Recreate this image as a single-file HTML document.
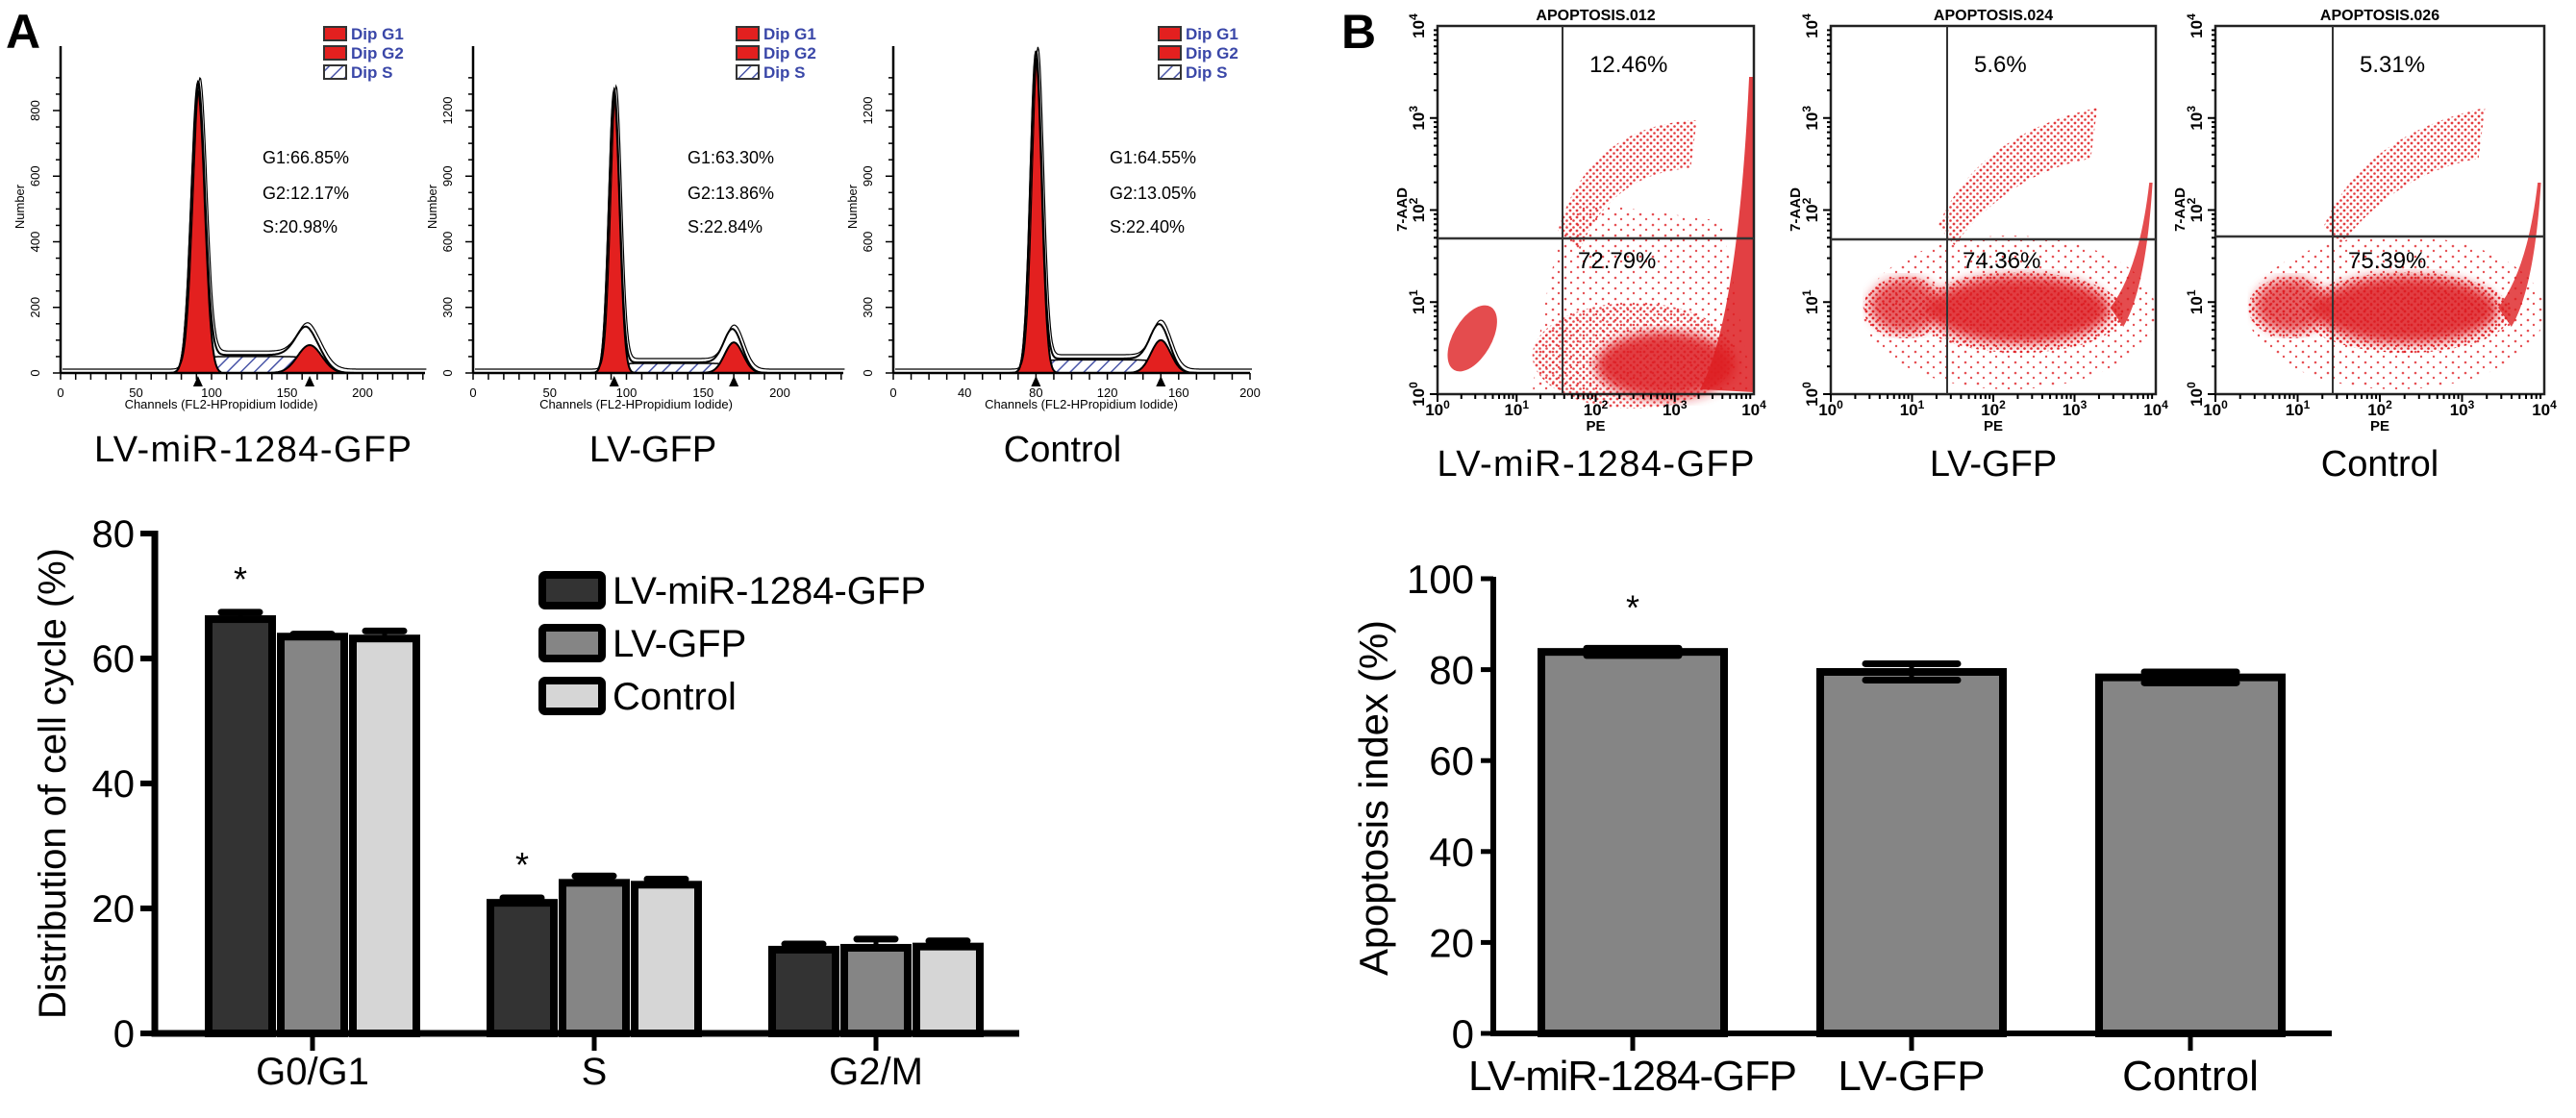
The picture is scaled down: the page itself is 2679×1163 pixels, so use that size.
<!DOCTYPE html>
<html><head><meta charset="utf-8"><style>
html,body{margin:0;padding:0;background:#fff;}
svg{display:block;font-family:"Liberation Sans",Arial,sans-serif;}
</style></head><body>
<svg id="fig" xmlns="http://www.w3.org/2000/svg" width="2679" height="1163" viewBox="0 0 2679 1163">
<defs>
<pattern id="hatch" width="10" height="10" patternUnits="userSpaceOnUse" patternTransform="rotate(45)">
<rect width="10" height="10" fill="#fff"/><line x1="0" y1="0" x2="0" y2="10" stroke="#4a56a8" stroke-width="3"/></pattern>
<pattern id="dots" width="7" height="7" patternUnits="userSpaceOnUse"><circle cx="2" cy="2" r="1.4" fill="#e0262a"/><circle cx="5.5" cy="5.5" r="1.3" fill="#e0262a"/></pattern>
<pattern id="sparse" width="13" height="11" patternUnits="userSpaceOnUse"><circle cx="3" cy="3" r="1.3" fill="#e0262a"/><circle cx="9" cy="8" r="1.2" fill="#e0262a"/></pattern>
<filter id="blur"><feGaussianBlur stdDeviation="6"/></filter>
</defs>
<text x="6" y="50" font-size="50" font-weight="bold">A</text>
<text x="1395" y="50" font-size="50" font-weight="bold">B</text>
<g id="hist"></g>
<g id="flow"></g>
<g id="barA"></g>
<g id="barB"></g>
</svg>
<script>
const NS='http://www.w3.org/2000/svg';
function mk(parent,tag,attrs,txt){const e=document.createElementNS(NS,tag);for(const k in attrs)e.setAttribute(k,attrs[k]);if(txt!==undefined)e.textContent=txt;parent.appendChild(e);return e;}

/* ---------- Histogram data ---------- */
const histNames=['LV-miR-1284-GFP','LV-GFP','Control'];
const histG1Channel=[91,92,80];
const histG1Height=[860,1270,1440];
const histG2Channel=[165,170,150];
const histG2Height=[85,140,150];
const histSHeight=[50,44,60];
const histG1Pct=['G1:66.85%','G1:63.30%','G1:64.55%'];
const histG2Pct=['G2:12.17%','G2:13.86%','G2:13.05%'];
const histSPct=['S:20.98%','S:22.84%','S:22.40%'];
const histYTicks=[[0,200,400,600,800],[0,300,600,900,1200],[0,300,600,900,1200]];
const histXTicks=[[0,50,100,150,200],[0,50,100,150,200],[0,40,80,120,160,200]];

const hg=document.getElementById('hist');
const hLayout=[{x0:63,x200:377,xend:442,ymax:800,yTop:115},{x0:492,x200:811,xend:877,ymax:1200,yTop:115},{x0:929,x200:1300,xend:1300,ymax:1200,yTop:115}];
const hSig1=[4.5,3.5,3.2],hSig2=[8,6,5.5];
for(let p=0;p<3;p++){
  const L=hLayout[p],base=388;
  const g=mk(hg,'g',{});
  
  
  const xs=c=>L.x0+c*(L.x200-L.x0)/200;
  const ys=v=>base-v*(base-L.yTop)/L.ymax;
  const g1=c=>histG1Height[p]*Math.exp(-0.5*Math.pow((c-histG1Channel[p])/hSig1[p],2));
  const g2=c=>histG2Height[p]*Math.exp(-0.5*Math.pow((c-histG2Channel[p])/hSig2[p],2));
  const a=histG1Channel[p],b=histG2Channel[p];
  const sf=c=>histSHeight[p]/((1+Math.exp(-(c-a)/2.5))*(1+Math.exp((c-b)/2.5)));
  const cEnd=(L.xend-L.x0)/(L.x200-L.x0)*200;
  function area(f,c1,c2){let d='M'+xs(c1)+','+base;for(let c=c1;c<=c2;c+=0.5)d+=' L'+xs(c).toFixed(1)+','+ys(f(c)).toFixed(1);return d+' L'+xs(c2)+','+base+'Z';}
  mk(g,'path',{d:area(sf,a-15,b+15),fill:'url(#hatch)',stroke:'#000','stroke-width':1.5});
  mk(g,'path',{d:area(g1,a-15,a+15),fill:'#e3201f',stroke:'#000','stroke-width':2});
  mk(g,'path',{d:area(g2,b-25,b+25),fill:'#e3201f',stroke:'#000','stroke-width':2});
  let d='';for(let c=0;c<=cEnd;c+=0.5){const v=g1(c)+g2(c)*1.25+sf(c)*1.1;d+=(c?' L':'M')+xs(c).toFixed(1)+','+ys(v).toFixed(1);}
  mk(g,'path',{d:d,fill:'none',stroke:'#000','stroke-width':2});
  mk(g,'path',{d:d,fill:'none',stroke:'#000','stroke-width':1.2,transform:'translate(2,-4)'});
  mk(g,'line',{x1:L.x0,y1:48,x2:L.x0,y2:base,stroke:'#000','stroke-width':2.5});
  mk(g,'line',{x1:L.x0,y1:base,x2:L.xend,y2:base,stroke:'#000','stroke-width':2.5});
  const yt=histYTicks[p],step=yt[1]-yt[0];
  for(let v=0;v<=L.ymax+step*0.6;v+=step/4){mk(g,'line',{x1:L.x0-(v%step===0?8:5),y1:ys(v),x2:L.x0,y2:ys(v),stroke:'#000','stroke-width':1.5});}
  yt.forEach(v=>{mk(g,'text',{x:L.x0-22,y:ys(v),'font-size':13,'text-anchor':'middle',transform:'rotate(-90 '+(L.x0-22)+' '+ys(v)+')'},String(v));});
  mk(g,'text',{x:L.x0-38,y:215,'font-size':13,'text-anchor':'middle',transform:'rotate(-90 '+(L.x0-38)+' 215)'},'Number');
  for(let c=0;c<=cEnd;c+=10){mk(g,'line',{x1:xs(c),y1:base,x2:xs(c),y2:base+7,stroke:'#000','stroke-width':1.5});}
  histXTicks[p].forEach(c=>{mk(g,'text',{x:xs(c),y:413,'font-size':13,'text-anchor':'middle'},String(c));});
  mk(g,'text',{x:(xs(0)+xs(200))/2+10,y:425,'font-size':13,'text-anchor':'middle'},'Channels (FL2-HPropidium Iodide)');
  [a,b].forEach(c=>mk(g,'path',{d:'M'+(xs(c)-5)+','+(base+14)+' L'+(xs(c)+5)+','+(base+14)+' L'+xs(c)+','+(base+3)+'Z',fill:'#000'}));
  const lx=[337,766,1205][p];
  ['Dip G1','Dip G2','Dip S'].forEach((t,i)=>{
    const r=mk(g,'rect',{x:lx,y:28+i*20,width:23,height:14,fill:i<2?'#e3201f':'url(#hatch)',stroke:'#333','stroke-width':2});
    
    const tt=mk(g,'text',{x:lx+28,y:41+i*20,'font-size':17,'font-weight':'bold',fill:'#3a47a8'},t);
    
  });
  const tx=[273,715,1154][p];
  mk(g,'text',{x:tx,y:170,'font-size':18},histG1Pct[p]);
  mk(g,'text',{x:tx,y:207,'font-size':18},histG2Pct[p]);
  mk(g,'text',{x:tx,y:242,'font-size':18},histSPct[p]);
  const lbl=mk(g,'text',{x:[263,679,1105][p],y:480,'font-size':38,'text-anchor':'middle'},histNames[p]);
  if(p===0)lbl.setAttribute('textLength','330');
  
}

/* ---------- Flow cytometry panels ---------- */
const flowTitles=['APOPTOSIS.012','APOPTOSIS.024','APOPTOSIS.026'];
const flowUpperPct=['12.46%','5.6%','5.31%'];
const flowLowerPct=['72.79%','74.36%','75.39%'];
const flowNames=['LV-miR-1284-GFP','LV-GFP','Control'];
const fg=document.getElementById('flow');
const fLayout=[{x0:1495,x1:1824,vx:1625,hy:248},{x0:1904,x1:2242,vx:2025,hy:249},{x0:2304,x1:2646,vx:2426,hy:246}];
const fTop=27,fBot=410;
for(let p=0;p<3;p++){
  const L=fLayout[p];
  const g=mk(fg,'g',{});
  
  
  const lx=e=>L.x0+e/4*(L.x1-L.x0), ly=e=>fBot-e/4*(fBot-fTop);
  const W=L.x1-L.x0;
  const cl=mk(g,'g',{});
  if(p===0){
    mk(cl,'path',{d:'M'+(L.x0+W*0.3)+',410 Q'+(L.x0+W*0.35)+',250 '+(L.x0+W*0.45)+',210 L'+(L.x0+W*0.9)+',230 L'+(L.x0+W)+',410Z',fill:'url(#sparse)',opacity:0.8});
    mk(cl,'ellipse',{cx:L.x0+W*0.62,cy:370,rx:W*0.32,ry:55,fill:'url(#dots)',opacity:0.85});
    mk(cl,'ellipse',{cx:L.x0+W*0.72,cy:380,rx:W*0.22,ry:35,fill:'#dd1f22',opacity:0.85,filter:'url(#blur)'});
    mk(cl,'path',{d:'M'+(L.x0+W*0.83)+',405 Q'+(L.x0+W*0.95)+',330 '+(L.x0+W*0.985)+',80 L'+(L.x0+W)+',80 L'+(L.x0+W)+',408Z',fill:'#dd1f22',opacity:0.85});
    mk(cl,'ellipse',{cx:L.x0+W*0.11,cy:352,rx:20,ry:38,fill:'#dd1f22',opacity:0.8,transform:'rotate(30 '+(L.x0+W*0.11)+' 352)'});
    mk(cl,'path',{d:'M'+(L.x0+W*0.38)+',240 Q'+(L.x0+W*0.48)+',130 '+(L.x0+W*0.82)+',125 L'+(L.x0+W*0.8)+',175 Q'+(L.x0+W*0.55)+',180 '+(L.x0+W*0.45)+',260Z',fill:'url(#dots)',opacity:0.9});
  } else {
    mk(cl,'ellipse',{cx:L.x0+W*0.55,cy:325,rx:W*0.45,ry:80,fill:'url(#sparse)',opacity:0.8});
    mk(cl,'ellipse',{cx:L.x0+W*0.58,cy:325,rx:W*0.32,ry:42,fill:'url(#dots)'});
    mk(cl,'ellipse',{cx:L.x0+W*0.58,cy:322,rx:W*0.28,ry:35,fill:'#dd1f22',opacity:0.85,filter:'url(#blur)'});
    mk(cl,'ellipse',{cx:L.x0+W*0.23,cy:320,rx:W*0.13,ry:32,fill:'url(#dots)'});
    mk(cl,'ellipse',{cx:L.x0+W*0.23,cy:318,rx:W*0.11,ry:28,fill:'#dd1f22',opacity:0.7,filter:'url(#blur)'});
    mk(cl,'path',{d:'M'+(L.x0+W*0.86)+',320 Q'+(L.x0+W*0.95)+',280 '+(L.x0+W*0.98)+',190 L'+(L.x0+W*0.99)+',190 Q'+(L.x0+W*0.97)+',300 '+(L.x0+W*0.9)+',340Z',fill:'#dd1f22',opacity:0.8});
    mk(cl,'path',{d:'M'+(L.x0+W*0.33)+',235 Q'+(L.x0+W*0.45)+',140 '+(L.x0+W*0.82)+',112 L'+(L.x0+W*0.8)+',165 Q'+(L.x0+W*0.55)+',180 '+(L.x0+W*0.38)+',255Z',fill:'url(#dots)',opacity:0.9});
  }
  mk(g,'rect',{x:L.x0,y:fTop,width:W,height:fBot-fTop,fill:'none',stroke:'#222','stroke-width':2.5});
  mk(g,'line',{x1:L.vx,y1:fTop,x2:L.vx,y2:fBot,stroke:'#333','stroke-width':2});
  mk(g,'line',{x1:L.x0,y1:L.hy,x2:L.x1,y2:L.hy,stroke:'#333','stroke-width':2.5});
  for(let e=0;e<4;e++){for(let k=1;k<10;k++){const v=e+Math.log10(k);
    mk(g,'line',{x1:L.x0-(k===1?8:4),y1:ly(v),x2:L.x0,y2:ly(v),stroke:'#000','stroke-width':2});
    mk(g,'line',{x1:lx(v),y1:fBot,x2:lx(v),y2:fBot+(k===1?8:5),stroke:'#000','stroke-width':2});}}
  for(let e=0;e<=4;e++){
    const t=mk(g,'text',{x:L.x0-14,y:ly(e),'font-size':17,'font-weight':'bold','text-anchor':'middle',transform:'rotate(-90 '+(L.x0-14)+' '+ly(e)+')'});
    mk(t,'tspan',{},'10');mk(t,'tspan',{dy:-7,'font-size':12},String(e));
    const t2=mk(g,'text',{x:lx(e),y:432,'font-size':17,'font-weight':'bold','text-anchor':'middle'});
    mk(t2,'tspan',{},'10');mk(t2,'tspan',{dy:-7,'font-size':12},String(e));
  }
  mk(g,'text',{x:L.x0-32,y:218,'font-size':15,'font-weight':'bold','text-anchor':'middle',transform:'rotate(-90 '+(L.x0-32)+' 218)'},'7-AAD');
  mk(g,'text',{x:(L.x0+L.x1)/2,y:448,'font-size':15,'font-weight':'bold','text-anchor':'middle'},'PE');
  mk(g,'text',{x:(L.x0+L.x1)/2,y:21,'font-size':16,'font-weight':'bold','text-anchor':'middle'},flowTitles[p]);
  mk(g,'text',{x:L.vx+28,y:75,'font-size':24},flowUpperPct[p]);
  mk(g,'text',{x:L.vx+16,y:279,'font-size':24},flowLowerPct[p]);
  const lbl=mk(g,'text',{x:(L.x0+L.x1)/2,y:495,'font-size':38,'text-anchor':'middle'},flowNames[p]);
  if(p===0)lbl.setAttribute('textLength','330');
  
}

/* ---------- Bar chart A data ---------- */
const cycleCategories=['G0/G1','S','G2/M'];
const seriesLabels=['LV-miR-1284-GFP','LV-GFP','Control'];
const valsMiR=[66.3,20.9,13.4];
const valsGFP=[63.5,24.1,13.7];
const valsCtrl=[63.2,23.8,13.9];
const errMiR=[1.1,0.8,0.9];
const errGFP=[0.4,1.1,1.4];
const errCtrl=[1.2,0.9,0.9];
const yTicksA=[0,20,40,60,80];
const sigA=[0,1];

const ga=document.getElementById('barA');
const yA=v=>1075-v*6.5;
const xA=i=>325+293*i;
const colorsA=['#333333','#858585','#d6d6d6'];
const seriesVals=[valsMiR,valsGFP,valsCtrl],seriesErr=[errMiR,errGFP,errCtrl];
cycleCategories.forEach((c,i)=>{
  seriesVals.forEach((vals,s)=>{
    const cx=xA(i)+(s-1)*75, top=yA(vals[i]), et=yA(vals[i]+seriesErr[s][i]);
    const eb=mk(ga,'line',{x1:cx,y1:top,x2:cx,y2:et,stroke:'#000','stroke-width':5});
    
    const cap=mk(ga,'line',{x1:cx-20,y1:et,x2:cx+20,y2:et,stroke:'#000','stroke-width':7,'stroke-linecap':'round'});
    
    const r=mk(ga,'rect',{x:cx-33,y:top,width:66,height:1075-top,fill:colorsA[s],stroke:'#000','stroke-width':8});
    
    
  });
  mk(ga,'line',{x1:xA(i),y1:1075,x2:xA(i),y2:1093,stroke:'#000','stroke-width':5});
  const lb=mk(ga,'text',{x:xA(i),y:1128,'font-size':40,'text-anchor':'middle'},c);
  
});
sigA.forEach(i=>{const st=mk(ga,'text',{x:xA(i)-75,y:yA(valsMiR[i]+errMiR[i])-22,'font-size':36,'text-anchor':'middle'},'*');
  });
const axA=mk(ga,'path',{d:'M161,552 L161,1075 L1060,1075',fill:'none',stroke:'#000','stroke-width':7});

yTicksA.forEach(v=>{mk(ga,'line',{x1:146,y1:yA(v),x2:161,y2:yA(v),stroke:'#000','stroke-width':6});
  const tl=mk(ga,'text',{x:140,y:yA(v)+14,'font-size':40,'text-anchor':'end'},String(v));
  });
const ytA=mk(ga,'text',{x:68,y:815,'font-size':40,'text-anchor':'middle',transform:'rotate(-90 68 815)',textLength:490},'Distribution of cell cycle (%)');

seriesLabels.forEach((n,s)=>{
  const y=598+s*55;
  const sw=mk(ga,'rect',{x:564,y:y,width:62,height:32,fill:colorsA[s],stroke:'#000','stroke-width':8,rx:3});
  
  const tx=mk(ga,'text',{x:637,y:y+30,'font-size':40},n);
  
});

/* ---------- Bar chart B data ---------- */
const apopCategories=['LV-miR-1284-GFP','LV-GFP','Control'];
const apopValues=[83.9,79.5,78.3];
const apopErrors=[0.8,1.8,1.2];
const yTicksB=[0,20,40,60,80,100];
const sigB=[0];

const gb=document.getElementById('barB');
const yB=v=>1075-v*4.73;
const xB=i=>1698+290*i;
apopCategories.forEach((c,i)=>{
  const cx=xB(i),top=yB(apopValues[i]);
  const r=mk(gb,'rect',{x:cx-95,y:top,width:190,height:1075-top,fill:'#858585',stroke:'#000','stroke-width':8});
  
  const et=yB(apopValues[i]+apopErrors[i]),ebm=yB(apopValues[i]-apopErrors[i]);
  const eb=mk(gb,'line',{x1:cx,y1:ebm,x2:cx,y2:et,stroke:'#000','stroke-width':5});
  
  mk(gb,'line',{x1:cx-48,y1:et,x2:cx+48,y2:et,stroke:'#000','stroke-width':7,'stroke-linecap':'round'});
  mk(gb,'line',{x1:cx-48,y1:ebm,x2:cx+48,y2:ebm,stroke:'#000','stroke-width':7,'stroke-linecap':'round'});
  mk(gb,'line',{x1:cx,y1:1075,x2:cx,y2:1093,stroke:'#000','stroke-width':5});
  const lb=mk(gb,'text',{x:cx,y:1134,'font-size':44,'text-anchor':'middle'},c);
  if(i===0)lb.setAttribute('textLength','342');
  
});
sigB.forEach(i=>{const st=mk(gb,'text',{x:xB(i),y:yB(apopValues[i]+apopErrors[i])-30,'font-size':36,'text-anchor':'middle'},'*');
  });
const axB=mk(gb,'path',{d:'M1553,600 L1553,1075 L2425,1075',fill:'none',stroke:'#000','stroke-width':6});

yTicksB.forEach(v=>{mk(gb,'line',{x1:1540,y1:yB(v),x2:1553,y2:yB(v),stroke:'#000','stroke-width':5});
  const tl=mk(gb,'text',{x:1533,y:yB(v)+15,'font-size':42,'text-anchor':'end'},String(v));
  });
const ytB=mk(gb,'text',{x:1443,y:830,'font-size':42,'text-anchor':'middle',transform:'rotate(-90 1443 830)',textLength:370},'Apoptosis index (%)');

</script>
</body></html>
